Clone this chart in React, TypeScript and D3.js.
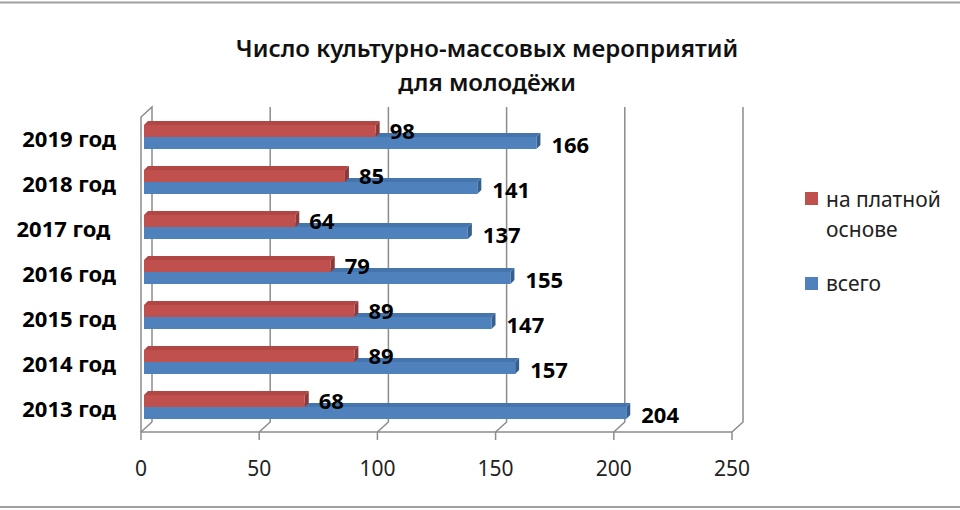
import { useEffect, useRef } from "react";
import * as d3 from "d3";

const years = ["2013 год", "2014 год", "2015 год", "2016 год", "2017 год ", "2018 год", "2019 год"];
const paid = [68, 89, 89, 79, 64, 85, 98];
const total = [204, 157, 147, 155, 137, 141, 166];
const ticks = [0, 50, 100, 150, 200, 250];
const seriesNames = ["на платной основе", "всего"];

const W = 960, H = 510;
const FONT = "'Noto Sans', 'Open Sans', sans-serif";

export default function App() {
  const svgRef = useRef<SVGSVGElement>(null);

  useEffect(() => {
    if (!svgRef.current) return;
    const svg = d3.select(svgRef.current);
    svg.selectAll("*").remove();

    // front plane of the 3d box, back wall sits at (+11, -10)
    const x = d3.scaleLinear().domain([0, 250]).range([141, 732]);
    const y = d3.scaleBand<string>().domain(years).range([432, 117]);
    const inner = d3.scaleBand<string>().domain(["paid", "total"]).range([11, 35]);
    const back = { dx: 11, dy: -10 };
    const plane = { dx: 3, dy: -3 }; // bar front plane
    const depth = { dx: 4, dy: -4 }; // bar thickness
    const grid = "#8c8c8c";
    const [y0, y1] = [432, 117];

    // frame
    svg.append("line").attr("x1", 0).attr("x2", W).attr("y1", 2.5).attr("y2", 2.5).attr("stroke", "#a0a0a0").attr("stroke-width", 2);
    svg.append("line").attr("x1", 0).attr("x2", W).attr("y1", 507).attr("y2", 507).attr("stroke", "#a0a0a0").attr("stroke-width", 2);

    // title
    const title = svg.append("text").attr("text-anchor", "middle").attr("font-family", FONT).attr("font-weight", "600").attr("font-size", 24).attr("fill", "#111");
    title.append("tspan").attr("x", 487).attr("y", 57).text("Число культурно-массовых мероприятий");
    title.append("tspan").attr("x", 487).attr("y", 91).text("для молодёжи");

    // left wall
    svg.append("path")
      .attr("d", `M${x(0)},${y0}L${x(0)},${y1}L${x(0) + back.dx},${y1 + back.dy}L${x(0) + back.dx},${y0 + back.dy}`)
      .attr("fill", "none").attr("stroke", grid).attr("stroke-width", 1.5);

    // back wall gridlines + floor diagonals
    ticks.slice(1).forEach((t) => {
      const bx = x(t) + back.dx;
      svg.append("path")
        .attr("d", `M${bx},${y1 + back.dy}L${bx},${y0 + back.dy}L${x(t)},${y0}`)
        .attr("fill", "none").attr("stroke", grid).attr("stroke-width", 1.5);
    });
    svg.append("path")
      .attr("d", `M${x(0)},${y0}L${x(0) + back.dx},${y0 + back.dy}`)
      .attr("fill", "none").attr("stroke", grid).attr("stroke-width", 1.5);

    // front floor edge with ticks
    svg.append("line").attr("x1", x(0)).attr("x2", x(250)).attr("y1", y0).attr("y2", y0).attr("stroke", grid).attr("stroke-width", 1.5);
    svg.selectAll(".tick").data(ticks).enter().append("line")
      .attr("x1", (d) => x(d)).attr("x2", (d) => x(d)).attr("y1", y0).attr("y2", y0 + 8)
      .attr("stroke", grid).attr("stroke-width", 1.5);
    svg.selectAll(".ticklabel").data(ticks).enter().append("text")
      .attr("x", (d) => x(d)).attr("y", 476).attr("text-anchor", "middle")
      .attr("font-family", FONT).attr("font-size", 21).attr("fill", "#222").text((d) => d);

    // bars
    const bar = (v: number, top: number, front: string, topC: string, side: string) => {
      const xl = x(0) + plane.dx, xr = x(v) + plane.dx;
      const yt = top + plane.dy, yb = yt + inner.bandwidth();
      const g = svg.append("g");
      g.append("path").attr("d", `M${xl},${yt}L${xl + depth.dx},${yt + depth.dy}L${xr + depth.dx},${yt + depth.dy}L${xr},${yt}Z`).attr("fill", topC);
      g.append("path").attr("d", `M${xr},${yt}L${xr + depth.dx},${yt + depth.dy}L${xr + depth.dx},${yb + depth.dy}L${xr},${yb}Z`).attr("fill", side);
      g.append("rect").attr("x", xl).attr("y", yt).attr("width", xr - xl).attr("height", yb - yt).attr("fill", front);
      return { end: xr + depth.dx, cy: (yt + yb) / 2 };
    };

    years.forEach((yr, i) => {
      const band = y(yr)!;
      const b = bar(total[i], band + inner("total")!, "#4f81bd", "#4675ad", "#365f91");
      const r = bar(paid[i], band + inner("paid")!, "#c0504d", "#b04744", "#8c3a38");
      svg.append("text").attr("x", r.end + 10).attr("y", r.cy).attr("dy", "0.36em")
        .attr("font-family", FONT).attr("font-weight", "bold").attr("font-size", 22).attr("fill", "#000").text(paid[i]);
      svg.append("text").attr("x", b.end + 11).attr("y", b.cy + 2).attr("dy", "0.36em")
        .attr("font-family", FONT).attr("font-weight", "bold").attr("font-size", 22).attr("fill", "#000").text(total[i]);
      svg.append("text").attr("x", 116).attr("y", band + y.bandwidth() / 2).attr("dy", "0.36em")
        .attr("text-anchor", "end").attr("font-family", FONT).attr("font-weight", "bold").attr("font-size", 22)
        .attr("fill", "#000").style("white-space", "pre").text(yr);
    });

    // legend
    const lg = svg.append("g").attr("font-family", FONT).attr("font-size", 21).attr("fill", "#222");
    lg.append("rect").attr("x", 805).attr("y", 192).attr("width", 13).attr("height", 13).attr("fill", "#c0504d");
    const t1 = lg.append("text");
    t1.append("tspan").attr("x", 826).attr("y", 207).text(seriesNames[0].split(" ").slice(0, 2).join(" "));
    t1.append("tspan").attr("x", 826).attr("y", 237).text(seriesNames[0].split(" ")[2]);
    lg.append("rect").attr("x", 805).attr("y", 277).attr("width", 13).attr("height", 13).attr("fill", "#4f81bd");
    lg.append("text").attr("x", 826).attr("y", 291).text(seriesNames[1]);
  }, []);

  return (
    <div style={{ position: "fixed", left: 0, top: 0, background: "#fff" }}>
      <svg ref={svgRef} width={W} height={H} style={{ display: "block" }} />
    </div>
  );
}
